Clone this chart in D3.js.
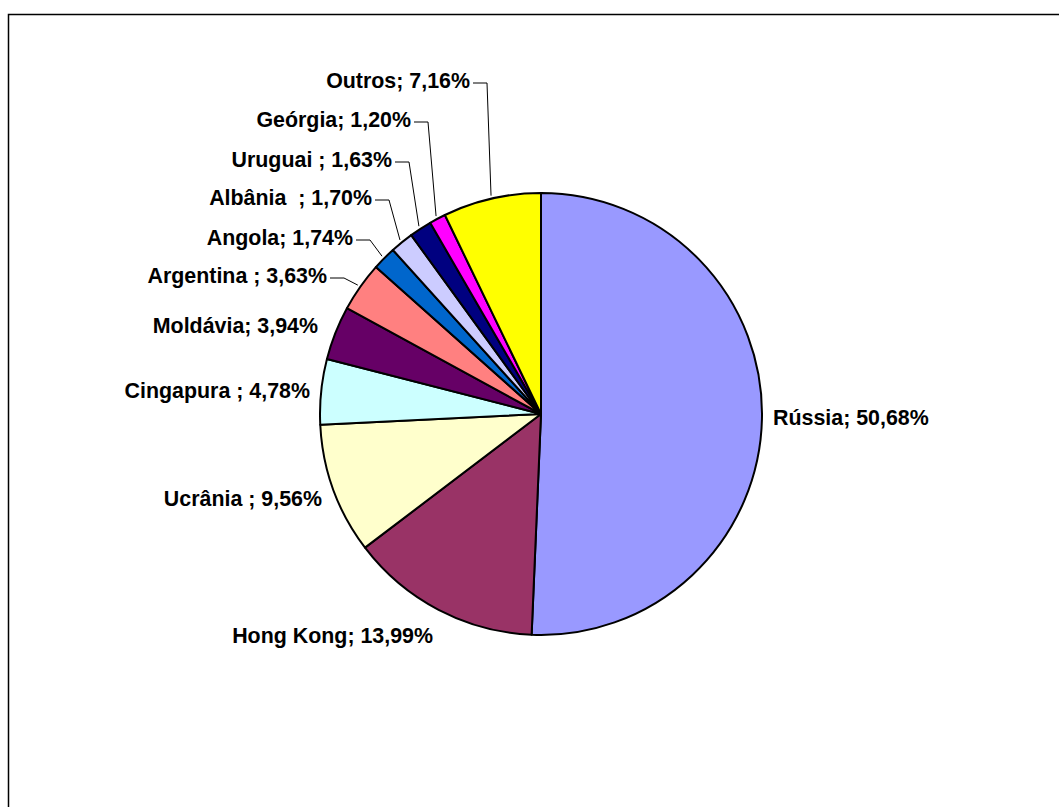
<!DOCTYPE html>
<html>
<head>
<meta charset="utf-8">
<script src="https://cdn.jsdelivr.net/npm/d3@7"></script>
<style>
  html, body { margin: 0; padding: 0; background: #fff; }
  svg { display: block; }
  .lbl { font-family: "Liberation Sans", Arial, sans-serif; font-weight: bold; font-size: 21.4px; fill: #000; white-space: pre; }
</style>
</head>
<body>
<svg id="chart" width="1059" height="807"></svg>
<script>
// Export destinations, share of total (%), clockwise from 12 o'clock
const countries = ["Rússia", "Hong Kong", "Ucrânia ", "Cingapura ", "Moldávia", "Argentina ", "Angola", "Albânia  ", "Uruguai ", "Geórgia", "Outros"];
const shares = [50.68, 13.99, 9.56, 4.78, 3.94, 3.63, 1.74, 1.70, 1.63, 1.20, 7.16];
const sliceColors = ["#9999FF", "#993366", "#FFFFCC", "#CCFFFF", "#660066", "#FF8080", "#0066CC", "#CCCCFF", "#000080", "#FF00FF", "#FFFF00"];

// Label placement: anchor side, x, baseline y, and whether a leader line is drawn
const labelLayout = [
  { anchor: "start", x: 773, y: 425, leader: false },
  { anchor: "end",   x: 433, y: 643, leader: false },
  { anchor: "end",   x: 322, y: 506, leader: false },
  { anchor: "end",   x: 310, y: 398, leader: false },
  { anchor: "end",   x: 318, y: 333, leader: false },
  { anchor: "end",   x: 327, y: 283, leader: true },
  { anchor: "end",   x: 353, y: 245, leader: true },
  { anchor: "end",   x: 372, y: 205, leader: true },
  { anchor: "end",   x: 392, y: 167, leader: true },
  { anchor: "end",   x: 411, y: 127, leader: true },
  { anchor: "end",   x: 470, y: 88,  leader: true }
];

const svg = d3.select("#chart");
const cx = 541, cy = 414, radius = 221;

// Chart area frame
svg.append("rect")
  .attr("x", 8.5).attr("y", 14.5)
  .attr("width", 1100).attr("height", 900)
  .attr("fill", "none").attr("stroke", "#000").attr("stroke-width", 1.5);

const data = countries.map((c, i) => ({ name: c, value: shares[i], color: sliceColors[i], layout: labelLayout[i] }));

const pie = d3.pie().value(d => d.value).sort(null);
const arcs = pie(data);
const arc = d3.arc().innerRadius(0).outerRadius(radius);

const g = svg.append("g").attr("transform", `translate(${cx},${cy})`);
g.selectAll("path.slice")
  .data(arcs)
  .join("path")
  .attr("class", "slice")
  .attr("d", arc)
  .attr("fill", d => d.data.color)
  .attr("stroke", "#000")
  .attr("stroke-width", 2)
  .attr("stroke-linejoin", "round");

const fmt = v => d3.format(".2f")(v).replace(".", ",") + "%";

// Leader lines from label to slice edge at the slice's mid angle
const leaderR = radius + 3;
arcs.filter(d => d.data.layout.leader).forEach(d => {
  const L = d.data.layout;
  const mid = (d.startAngle + d.endAngle) / 2;
  const ex = cx + leaderR * Math.sin(mid);
  const ey = cy - leaderR * Math.cos(mid);
  const y0 = L.y - 5;
  svg.append("polyline")
    .attr("points", `${L.x + 3},${y0} ${L.x + 17},${y0} ${ex},${ey}`)
    .attr("fill", "none")
    .attr("stroke", "#000")
    .attr("stroke-width", 1);
});

svg.selectAll("text.lbl")
  .data(arcs)
  .join("text")
  .attr("class", "lbl")
  .attr("x", d => d.data.layout.x)
  .attr("y", d => d.data.layout.y)
  .attr("text-anchor", d => d.data.layout.anchor)
  .text(d => d.data.name + "; " + fmt(d.data.value));
</script>
</body>
</html>
